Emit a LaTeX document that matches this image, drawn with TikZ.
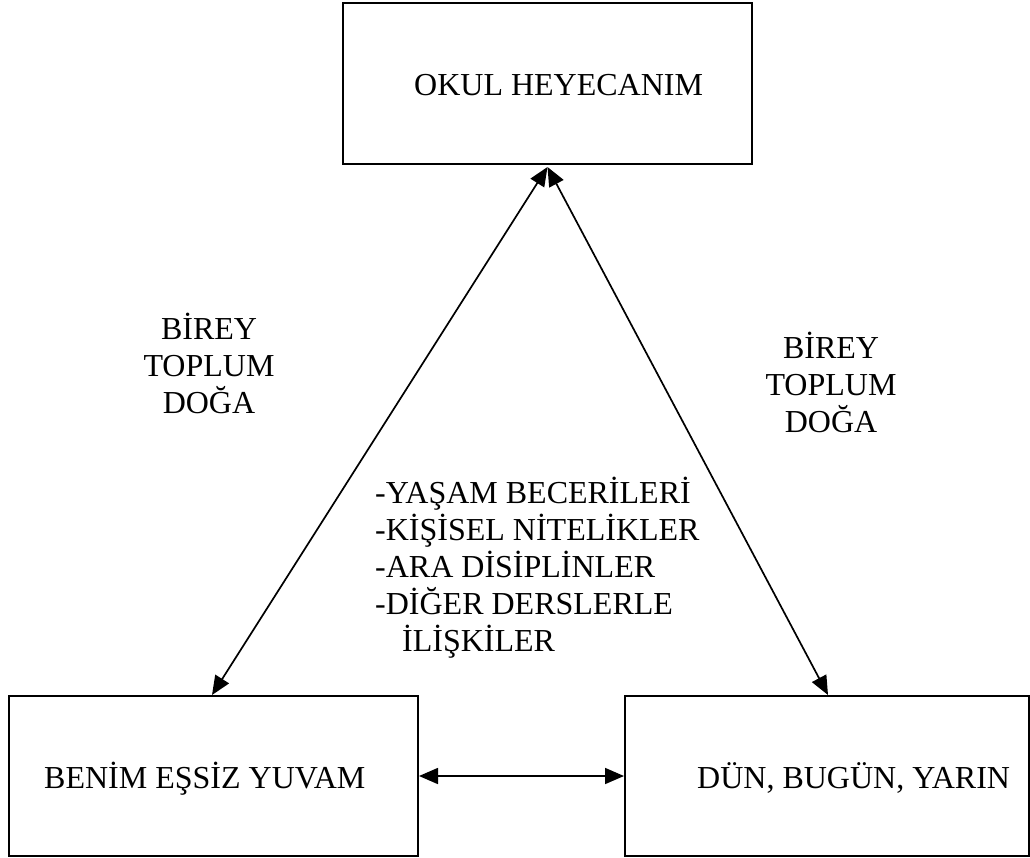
\documentclass[tikz,border=0pt]{standalone}
\usepackage{fontspec}
\setmainfont{Liberation Serif}
\usetikzlibrary{arrows.meta}
\tikzset{
  box/.style={draw, line width=2pt, inner sep=0pt, rectangle},
  conn/.style={line width=1.7pt, {Triangle[length=19pt,width=16pt]}-{Triangle[length=19pt,width=16pt]}},
  txt/.style={inner sep=0pt, font=\fontsize{32}{37}\selectfont},
}
\begin{document}
\begin{tikzpicture}[x=1pt,y=-1pt]
\useasboundingbox[fill=white] (0,0) rectangle (1030,857);
% boxes
\node[box, minimum width=409pt, minimum height=161pt] (top) at (547.5,83.5) {};
\node[box, minimum width=409pt, minimum height=160pt] (bl) at (213.5,776) {};
\node[box, minimum width=404pt, minimum height=160pt] (br) at (827,776) {};
% texts
\node[txt, anchor=base west] (ttop) at (414,95) {OKUL HEYECANIM};
\node[txt, anchor=base west] (tbl) at (44,788) {BENİM EŞSİZ YUVAM};
\node[txt, anchor=base west] (tbr) at (697,788) {DÜN, BUGÜN, YARIN};
\node[txt, align=center, anchor=north] (lg) at (209,313) {BİREY\\TOPLUM\\DOĞA};
\node[txt, align=center, anchor=north] (rg) at (831,332) {BİREY\\TOPLUM\\DOĞA};
\node[txt, align=left, anchor=north west] (mid) at (375,477) {-YAŞAM BECERİLERİ\\-KİŞİSEL NİTELİKLER\\-ARA DİSİPLİNLER\\-DİĞER DERSLERLE\\\hspace*{27pt}İLİŞKİLER};
% connector end points
\path (bl.north west) ++(204,0) coordinate (blt);
\path (br.north west) ++(204,0) coordinate (brt);
\path (top.south) ++(0,2) coordinate (apex);
% connectors
\draw[conn] (apex) -- (blt);
\draw[conn] (apex) -- (brt);
\draw[conn] (bl.east) -- (br.west);
\end{tikzpicture}
\end{document}
